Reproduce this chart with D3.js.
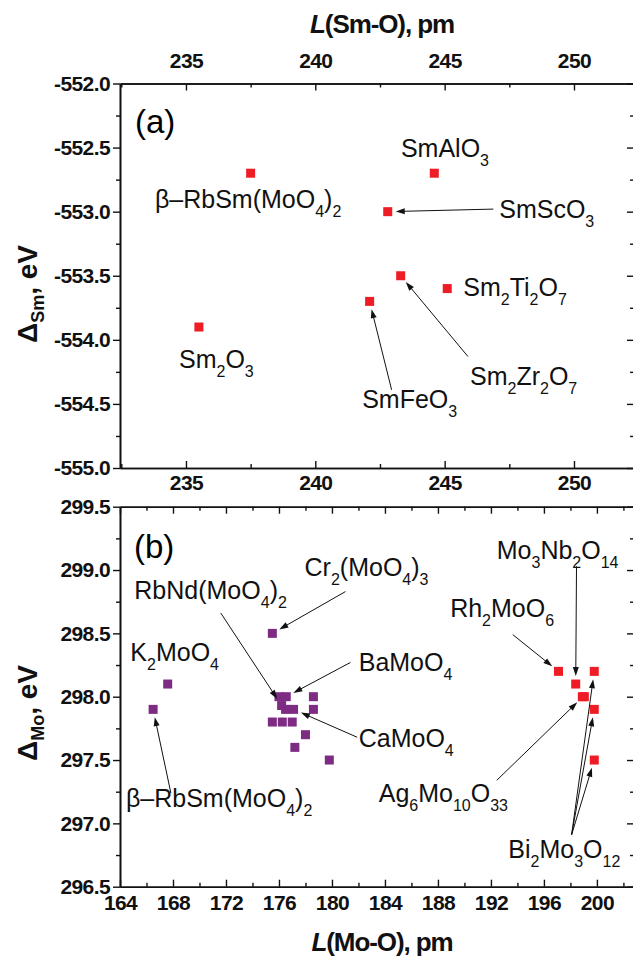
<!DOCTYPE html>
<html>
<head>
<meta charset="utf-8">
<script src="https://cdn.jsdelivr.net/npm/d3@7"></script>
<style>
  body { margin: 0; background: #fff; }
  svg { display: block; }
  text { font-family: "Liberation Sans", Arial, sans-serif; }
</style>
</head>
<body>
<svg id="fig" width="633" height="959"></svg>
<script>
// ---- panel (a): Sm compounds ----
const smNames = ["Sm2O3", "b-RbSm(MoO4)2", "SmFeO3", "SmScO3", "Sm2Zr2O7", "SmAlO3", "Sm2Ti2O7"];
const smL     = [235.5, 237.5, 242.1, 242.8, 243.3, 244.6, 245.1];
const smDelta = [-553.9, -552.7, -553.7, -553.0, -553.5, -552.7, -553.6];

// ---- panel (b): Mo compounds ----
const moPurpleL = [167.6, 166.5, 175.5, 176.0, 176.55, 178.6, 176.2, 176.5, 177.1, 178.6, 175.5, 176.25, 177.0, 178.0, 177.2, 179.8];
const moPurpleD = [298.1, 297.9, 298.5, 298.0, 298.0, 298.0, 297.93, 297.9, 297.9, 297.9, 297.8, 297.8, 297.8, 297.7, 297.6, 297.5];
const moRedL = [197.1, 198.4, 199.8, 198.9, 199.05, 199.8, 199.8];
const moRedD = [298.2, 298.1, 298.2, 298.0, 298.0, 297.9, 297.5];

// tick values
const smTicksX = [235, 240, 245, 250];
const smTicksY = [-555.0, -554.5, -554.0, -553.5, -553.0, -552.5, -552.0];
const moTicksX = [164, 168, 172, 176, 180, 184, 188, 192, 196, 200];
const moTicksY = [296.5, 297.0, 297.5, 298.0, 298.5, 299.0, 299.5];

// annotations (data units): text, anchor x, baseline y
const smLabels = [
  ["SmAlO_3", 243.31, -552.57],
  ["β–RbSm(MoO_4)_2", 233.80, -552.97],
  ["SmScO_3", 247.11, -553.05],
  ["Sm_2Ti_2O_7", 245.72, -553.66],
  ["Sm_2Zr_2O_7", 245.98, -554.35],
  ["SmFeO_3", 241.81, -554.53],
  ["Sm_2O_3", 234.73, -554.22]
];
// arrows: from (x, y) to point (x, y)
const smArrows = [
  [246.88, -552.98, 242.8, -553.0],
  [245.90, -554.13, 243.3, -553.5],
  [242.95, -554.39, 242.1, -553.7]
];
const moLabels = [
  ["Cr_2(MoO_4)_3", 177.93, 298.95],
  ["RbNd(MoO_4)_2", 165.08, 298.77],
  ["K_2MoO_4", 164.78, 298.28],
  ["BaMoO_4", 182.02, 298.20],
  ["CaMoO_4", 182.02, 297.60],
  ["β–RbSm(MoO_4)_2", 164.45, 297.13],
  ["Ag_6Mo_10O_33", 183.53, 297.17],
  ["Bi_2Mo_3O_12", 193.31, 296.73],
  ["Mo_3Nb_2O_14", 192.44, 299.09],
  ["Rh_2MoO_6", 188.92, 298.63]
];
const moArrows = [
  [181.02, 298.83, 175.5, 298.5],
  [171.61, 298.66, 176.2, 297.93],
  [181.39, 298.27, 176.55, 298.0],
  [181.90, 297.68, 177.1, 297.9],
  [167.84, 297.24, 166.5, 297.9],
  [192.44, 297.34, 198.95, 298.0],
  [198.09, 296.91, 199.8, 298.2],
  [198.09, 296.91, 199.8, 297.9],
  [198.09, 296.91, 199.8, 297.5],
  [198.46, 299.03, 198.4, 298.1],
  [193.65, 298.49, 197.1, 298.2]
];

const svg = d3.select("#fig");
const X0 = 120, X1 = 634;

const xA = d3.scaleLinear().domain([232.45, 252.32]).range([X0, X1]);
const yA = d3.scaleLinear().domain([-555, -552]).range([468, 83.5]);
const xB = d3.scaleLinear().domain([164, 202.8]).range([X0, X1]);
const yB = d3.scaleLinear().domain([296.5, 299.5]).range([886.7, 506.7]);

const RED = "#ee1c24", PURPLE = "#7e2b84";

function minors(major) {
  const out = [];
  for (let i = 0; i < major.length - 1; i++) out.push((major[i] + major[i + 1]) / 2);
  return out;
}
function between(scale, step) {
  const [a, b] = scale.domain(), out = [];
  for (let v = Math.ceil(a / step) * step; v <= b + 1e-9; v += step) out.push(+v.toFixed(4));
  return out;
}

function styleAxis(g) {
  g.selectAll("path.domain").attr("stroke", "#111").attr("stroke-width", 1.6);
  g.selectAll(".tick line").attr("stroke", "#111").attr("stroke-width", 1.4);
  g.selectAll("text").attr("font-size", 21).attr("font-weight", "bold")
    .attr("font-family", "'Liberation Sans', Arial, sans-serif").attr("fill", "#111")
    .attr("letter-spacing", -0.6);
}

function drawFrame(x, y, ticksX, ticksY, minorStepX, fmtX, labelTop, yPad) {
  const top = y.range()[1], bottom = y.range()[0];
  const allX = between(x, minorStepX);
  const minorX = allX.filter(v => !ticksX.includes(v));
  const minorY = minors(ticksY);
  // left
  svg.append("g").attr("transform", `translate(${X0},0)`)
    .call(d3.axisLeft(y).tickValues(ticksY).tickSize(7).tickSizeOuter(0).tickPadding(3).tickFormat(d => d.toFixed(1)))
    .call(styleAxis);
  svg.append("g").attr("transform", `translate(${X0},0)`)
    .call(d3.axisLeft(y).tickValues(minorY).tickSize(4).tickSizeOuter(0).tickFormat(""))
    .call(styleAxis);
  // right
  svg.append("g").attr("transform", `translate(${X1},0)`)
    .call(d3.axisRight(y).tickValues(ticksY).tickSize(-7).tickSizeOuter(0).tickFormat(""))
    .call(styleAxis);
  svg.append("g").attr("transform", `translate(${X1},0)`)
    .call(d3.axisRight(y).tickValues(minorY).tickSize(-4).tickSizeOuter(0).tickFormat(""))
    .call(styleAxis);
  // bottom
  svg.append("g").attr("transform", `translate(0,${bottom})`)
    .call(d3.axisBottom(x).tickValues(ticksX).tickSize(-7).tickSizeOuter(0).tickPadding(yPad).tickFormat(fmtX))
    .call(styleAxis);
  svg.append("g").attr("transform", `translate(0,${bottom})`)
    .call(d3.axisBottom(x).tickValues(minorX).tickSize(-4).tickSizeOuter(0).tickFormat(""))
    .call(styleAxis);
  // top
  svg.append("g").attr("transform", `translate(0,${top})`)
    .call(d3.axisTop(x).tickValues(ticksX).tickSize(-7).tickSizeOuter(0).tickPadding(16)
      .tickFormat(labelTop ? fmtX : ""))
    .call(styleAxis);
  svg.append("g").attr("transform", `translate(0,${top})`)
    .call(d3.axisTop(x).tickValues(minorX).tickSize(-4).tickSizeOuter(0).tickFormat(""))
    .call(styleAxis);
}

drawFrame(xA, yA, smTicksX, smTicksY, 2.5, d => d, true, 7);
drawFrame(xB, yB, moTicksX, moTicksY, 2, d => d, false, 8);

// chemical formula with subscripts: "_digits"
function formula(sel, str, size, subSize, shift) {
  const parts = str.split(/_(\d+)/);
  let down = false;
  parts.forEach((p, i) => {
    if (!p) return;
    const isSub = i % 2 === 1;
    const t = sel.append("tspan").text(p).attr("font-size", isSub ? subSize : size);
    if (isSub && !down) { t.attr("dy", shift); down = true; }
    else if (!isSub && down) { t.attr("dy", -shift); down = false; }
  });
}

function drawPoints(x, y, xs, ys, color) {
  svg.append("g").selectAll("rect")
    .data(xs.map((v, i) => [v, ys[i]]))
    .join("rect")
    .attr("x", d => x(d[0]) - 4.5).attr("y", d => y(d[1]) - 4.5)
    .attr("width", 9).attr("height", 9)
    .attr("fill", color);
}

function drawLabels(x, y, labels) {
  labels.forEach(([t, lx, ly]) => {
    const txt = svg.append("text").attr("x", x(lx)).attr("y", y(ly)).attr("fill", "#111");
    formula(txt, t, 25, 16, 9);
  });
}

function drawArrows(x, y, arrows) {
  const g = svg.append("g");
  arrows.forEach(([fx, fy, tx, ty]) => {
    const x1 = x(fx), y1 = y(fy), x2 = x(tx), y2 = y(ty);
    const dx = x2 - x1, dy = y2 - y1, len = Math.hypot(dx, dy);
    const ux = dx / len, uy = dy / len;
    const tipX = x2 - ux * 8, tipY = y2 - uy * 8;
    const bx = tipX - ux * 9, by = tipY - uy * 9;
    g.append("line").attr("x1", x1).attr("y1", y1).attr("x2", bx + ux * 2).attr("y2", by + uy * 2)
      .attr("stroke", "#111").attr("stroke-width", 1);
    g.append("path")
      .attr("d", `M${tipX},${tipY}L${bx - uy * 3},${by + ux * 3}L${bx + uy * 3},${by - ux * 3}Z`)
      .attr("fill", "#111");
  });
}

drawPoints(xA, yA, smL, smDelta, RED);
drawLabels(xA, yA, smLabels);
drawArrows(xA, yA, smArrows);

drawPoints(xB, yB, moPurpleL, moPurpleD, PURPLE);
drawPoints(xB, yB, moRedL, moRedD, RED);
drawLabels(xB, yB, moLabels);
drawArrows(xB, yB, moArrows);

// panel letters
svg.append("text").attr("x", xA(233.03)).attr("y", yA(-552.39))
  .attr("font-family", "'Liberation Serif', 'Times New Roman', serif").attr("font-size", 33).text("(a)");
svg.append("text").attr("x", xB(165.05)).attr("y", yB(299.095))
  .attr("font-family", "'Liberation Serif', 'Times New Roman', serif").attr("font-size", 33).text("(b)");

// axis titles
function xTitle(yPos, elem) {
  const t = svg.append("text").attr("x", 382).attr("y", yPos)
    .attr("text-anchor", "middle").attr("font-size", 26).attr("font-weight", "bold").attr("fill", "#111")
    .attr("letter-spacing", -1.1);
  t.append("tspan").attr("font-style", "italic").text("L");
  t.append("tspan").text(`(${elem}-O), pm`);
}
xTitle(33, "Sm");
xTitle(951, "Mo");

function yTitle(cy, elem) {
  const t = svg.append("text").attr("transform", `translate(37,${cy}) rotate(-90)`)
    .attr("text-anchor", "middle").attr("font-size", 28).attr("font-weight", "bold").attr("fill", "#111");
  t.append("tspan").text("Δ");
  t.append("tspan").attr("font-size", 18).attr("dy", 7).text(elem);
  t.append("tspan").attr("dy", -7).text(", eV");
}
yTitle(294, "Sm");
yTitle(713, "Mo");
</script>
</body>
</html>
